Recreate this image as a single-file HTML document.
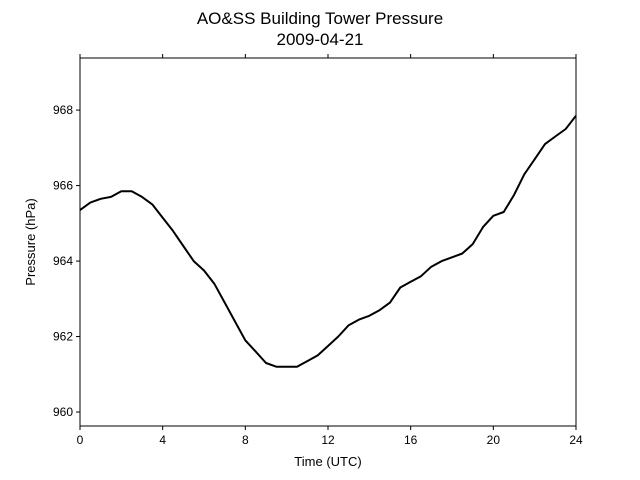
<!DOCTYPE html>
<html><head><meta charset="utf-8"><style>body{margin:0;background:#fff}svg{display:block;font-family:"Liberation Sans","DejaVu Sans",sans-serif}</style></head>
<body>
<svg id="chart" width="640" height="480" viewBox="0 0 640 480">
<text x="320" y="24" font-size="17" text-anchor="middle">AO&amp;SS Building Tower Pressure</text>
<text x="320" y="45" font-size="17" text-anchor="middle">2009-04-21</text>
<g id="plot"></g>
<text x="328" y="466" font-size="13" text-anchor="middle">Time (UTC)</text>
<text x="0" y="0" font-size="13" text-anchor="middle" transform="translate(35,242) rotate(-90)">Pressure (hPa)</text>
</svg>
<script>
const times=[0,0.5,1,1.5,2,2.5,3,3.5,4,4.5,5,5.5,6,6.5,7,7.5,8,8.5,9,9.5,10,10.5,11,11.5,12,12.5,13,13.5,14,14.5,15,15.5,16,16.5,17,17.5,18,18.5,19,19.5,20,20.5,21,21.5,22,22.5,23,23.5,24];
const pressure=[965.35,965.55,965.65,965.7,965.85,965.85,965.7,965.5,965.15,964.8,964.4,964.0,963.75,963.4,962.9,962.4,961.9,961.6,961.3,961.2,961.2,961.2,961.35,961.5,961.75,962.0,962.3,962.45,962.55,962.7,962.9,963.3,963.45,963.6,963.85,964.0,964.1,964.2,964.45,964.9,965.2,965.3,965.75,966.3,966.7,967.1,967.3,967.5,967.85];
const xTicks=[0,4,8,12,16,20,24];
const yTicks=[960,962,964,966,968];
const L=80,R=576,T=58,B=426,xMin=0,xMax=24,yMin=959.63,yMax=969.38;
const sx=v=>L+(v-xMin)/(xMax-xMin)*(R-L);
const sy=v=>B-(v-yMin)/(yMax-yMin)*(B-T);
const NS="http://www.w3.org/2000/svg";
const g=document.getElementById('plot');
function mk(tag,attrs){const e=document.createElementNS(NS,tag);for(const k in attrs)e.setAttribute(k,attrs[k]);g.appendChild(e);return e;}
const line=mk('path',{d:times.map((t,i)=>(i?'L':'M')+sx(t).toFixed(1)+','+sy(pressure[i]).toFixed(1)).join(''),fill:'none',stroke:'#000','stroke-width':2,'stroke-linejoin':'round'});


const frame=mk('rect',{x:L,y:T,width:R-L,height:B-T,fill:'none',stroke:'#000','stroke-width':1});


xTicks.forEach(v=>{
  const x=sx(v);
  const tk=mk('line',{x1:x,x2:x,y1:B,y2:B+4,stroke:'#000'});
  
  
  const tt=mk('line',{x1:x,x2:x,y1:T,y2:T-4,stroke:'#000'});
  
  
  const lb=mk('text',{x:x,y:B+18,'font-size':12,'text-anchor':'middle'});
  lb.textContent=v;
  
  
});
yTicks.forEach(v=>{
  const y=sy(v);
  const tk=mk('line',{x1:L-4,x2:L,y1:y,y2:y,stroke:'#000'});
  
  
  const lb=mk('text',{x:L-7,y:y+4,'font-size':12,'text-anchor':'end'});
  lb.textContent=v;
  
  
});
</script>
</body></html>
